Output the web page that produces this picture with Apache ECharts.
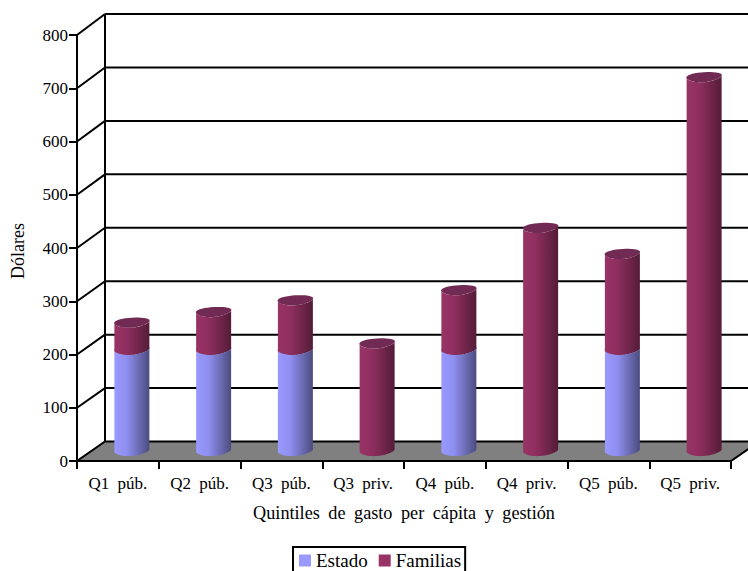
<!DOCTYPE html>
<html>
<head>
<meta charset="utf-8">
<style>
  html, body { margin: 0; padding: 0; background: #fff; overflow: hidden; }
  #chart { width: 748px; height: 571px; }
  #chart text { word-spacing: 4px; }
</style>
<script src="https://cdn.jsdelivr.net/npm/echarts@6/dist/echarts.min.js"></script>
</head>
<body>
<div id="chart"></div>
<script>
// Gasto por alumno según quintil y gestión, aportes del Estado y de las familias
const categories = ['Q1 púb.', 'Q2 púb.', 'Q3 púb.', 'Q3 priv.', 'Q4 púb.', 'Q4 priv.', 'Q5 púb.', 'Q5 priv.'];
const estado = [190, 190, 190, 0, 190, 0, 190, 0];
const familias = [51, 71, 93, 202, 112, 419, 180, 702];
const yTicks = [0, 100, 200, 300, 400, 500, 600, 700, 800];

const FONT = '"Liberation Serif", serif';
const DEPTH_X = 28;
const RADIUS_X = 17.5;
const RADIUS_Y = 5;
const SKEW_X = 3;

// Oblique projection of the wall depth; the back plane is marginally taller than the front.
const backY = (y, base) => y - 19.5 - (base - y) * 0.0035;

// Point on the sheared ellipse that stands for a cylinder cross-section.
function ring(cx, cy, t) {
  return [cx + RADIUS_X * Math.cos(t) + SKEW_X * Math.sin(t) * Math.cos(t),
          cy - RADIUS_Y * Math.sin(t) - 1.2 * Math.cos(t)];
}
function arc(cx, cy, from, to, n) {
  const pts = [];
  for (let i = 0; i <= n; i++) pts.push(ring(cx, cy, from + (to - from) * i / n));
  return pts;
}

function cylinder(colors, topColor, starts) {
  return function (params, api) {
    const i = api.value(0);
    const v = api.value(1);
    if (!v) return null;
    const base = starts[i];
    const p0 = api.coord([i, base]);
    const p1 = api.coord([i, base + v]);
    const cx = p0[0] + DEPTH_X / 2;
    const y0 = p0[1] - 10;
    const y1 = p1[1] - 10;
    const body = arc(cx, y0, Math.PI, 2 * Math.PI, 24)
      .concat(arc(cx, y1, 2 * Math.PI, Math.PI, 24));
    const top = arc(cx, y1, 0, 2 * Math.PI, 40);
    return {
      type: 'group',
      children: [
        {
          type: 'polygon',
          shape: { points: body },
          style: {
            fill: {
              type: 'linear', x: 0, y: 0, x2: 1, y2: 0,
              colorStops: [
                { offset: 0, color: colors[0] },
                { offset: 0.35, color: colors[1] },
                { offset: 1, color: colors[2] }
              ]
            }
          }
        },
        { type: 'polygon', shape: { points: top }, style: { fill: topColor } }
      ]
    };
  };
}

const chart = echarts.init(document.getElementById('chart'), null, { renderer: 'svg' });

chart.setOption({
  animation: false,
  backgroundColor: '#fff',
  textStyle: { fontFamily: FONT, color: '#000' },
  grid: { left: 77, top: 35, width: 654, height: 426, outerBoundsMode: 'none' },
  xAxis: {
    type: 'category',
    data: categories,
    boundaryGap: true,
    name: 'Quintiles de gasto per cápita y gestión',
    nameLocation: 'middle',
    nameGap: 43,
    nameTextStyle: { fontFamily: FONT, fontSize: 18.2, color: '#000' },
    axisLine: { show: true, lineStyle: { color: '#000', width: 2 } },
    axisTick: { show: true, alignWithLabel: false, length: 8, lineStyle: { color: '#000', width: 2 } },
    axisLabel: { fontFamily: FONT, fontSize: 17, color: '#000', margin: 14, interval: 0 },
    splitLine: { show: false }
  },
  yAxis: {
    type: 'value',
    min: 0,
    max: 800,
    interval: 100,
    name: 'Dólares',
    nameLocation: 'middle',
    nameGap: 50,
    nameTextStyle: { fontFamily: FONT, fontSize: 18, color: '#000', padding: [0, 6, 0, 0] },
    axisLine: { show: true, onZero: false, lineStyle: { color: '#000', width: 2 } },
    axisTick: { show: true, length: 8, lineStyle: { color: '#000', width: 2 } },
    axisLabel: { fontFamily: FONT, fontSize: 17, color: '#000', margin: 9 },
    splitLine: { show: false }
  },
  legend: {
    data: ['Estado', 'Familias'],
    left: 293,
    top: 547,
    orient: 'horizontal',
    icon: 'rect',
    itemWidth: 12,
    itemHeight: 12,
    itemGap: 11,
    padding: [4, 4, 8, 6],
    borderColor: '#000',
    borderWidth: 2,
    selectedMode: false,
    textStyle: { fontFamily: FONT, fontSize: 19, color: '#000' }
  },
  series: [
    {
      // floor and walls of the 3D box
      type: 'custom',
      name: 'walls',
      silent: true,
      clip: false,
      z: 1,
      data: yTicks.map(v => [v]),
      encode: { y: 0 },
      renderItem(params, api) {
        const v = api.value(0);
        const cs = params.coordSys;
        const base = cs.y + cs.height;
        const y = api.coord([0, v])[1];
        const by = backY(y, base);
        const left = cs.x;
        const right = cs.x + cs.width;
        const line = (x1, y1, x2, y2) => ({
          type: 'line',
          shape: { x1, y1, x2, y2 },
          style: { stroke: '#000', lineWidth: 2 }
        });
        const children = [];
        if (v === 0) {
          children.push({
            type: 'polygon',
            shape: { points: [[left, y], [right, y], [right + DEPTH_X, by], [left + DEPTH_X, by]] },
            style: { fill: '#808080', stroke: '#000', lineWidth: 2 }
          });
        } else {
          children.push(line(left + DEPTH_X, by, right + DEPTH_X, by));
          children.push(line(left, y, left + DEPTH_X, by));
        }
        if (v === yTicks[yTicks.length - 1]) {
          children.push(line(left + DEPTH_X, by, left + DEPTH_X, backY(base, base)));
        }
        return { type: 'group', children };
      }
    },
    {
      type: 'custom',
      name: 'Estado',
      z: 3,
      clip: false,
      itemStyle: { color: '#9999ff' },
      data: estado.map((v, i) => [i, v]),
      encode: { x: 0, y: 1 },
      renderItem: cylinder(['#9999ff', '#8f8ff0', '#4c4c80'], '#7a7acc', estado.map(() => 0))
    },
    {
      type: 'custom',
      name: 'Familias',
      z: 4,
      clip: false,
      itemStyle: { color: '#993366' },
      data: familias.map((v, i) => [i, v]),
      encode: { x: 0, y: 1 },
      renderItem: cylinder(['#993366', '#8f2f5f', '#541c38'], '#702a54', estado)
    }
  ]
});
</script>
</body>
</html>
